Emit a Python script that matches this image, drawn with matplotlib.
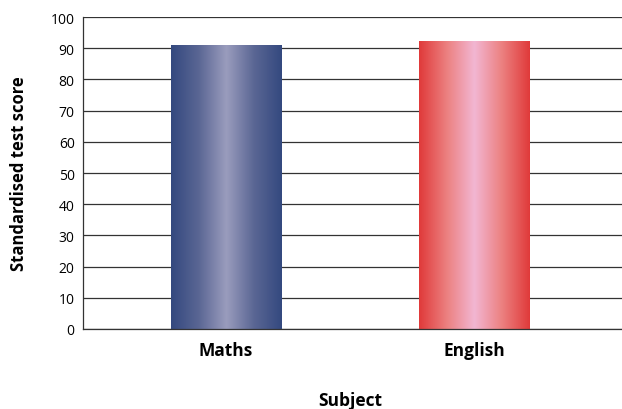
import numpy as np
import matplotlib
matplotlib.use("Agg")
import matplotlib.pyplot as plt
from matplotlib.colors import LinearSegmentedColormap

subjects = ["Maths", "English"]
scores = [91, 92]
yticks = list(range(0, 101, 10))

plt.rcParams['font.family'] = ['Open Sans', 'DejaVu Sans']

fig = plt.figure(figsize=(6.22, 4.10), dpi=100)
ax = fig.add_axes([83/622, 80/410, (622-83)/622, 312/410])

x = np.arange(len(subjects))
width = 0.444
bars = ax.bar(x, scores, width=width, color="none", edgecolor="none", zorder=3)

gradients = [
    ["#34497f", "#5a6694", "#9a9cbd", "#5a6694", "#34497f"],
    ["#e03a3a", "#ec8080", "#f2b6d2", "#ec8080", "#e03a3a"],
]
grad = np.linspace(0, 1, 256).reshape(1, -1)
for bar, cols in zip(bars, gradients):
    cmap = LinearSegmentedColormap.from_list("g", cols)
    x0, y0 = bar.get_x(), bar.get_y()
    ax.imshow(grad, cmap=cmap, aspect="auto", zorder=3,
              extent=[x0, x0 + bar.get_width(), y0, y0 + bar.get_height()])

ax.set_xlim(-0.577, 1.597)
ax.set_ylim(0, 100)
ax.set_yticks(yticks)
ax.set_yticklabels([str(t) for t in yticks], fontsize=10)
ax.set_xticks(x)
ax.set_xticklabels(subjects, fontsize=12.5, fontweight="bold")
ax.tick_params(axis="both", length=0, pad=6)
ax.tick_params(axis="x", pad=9)
ax.grid(axis="y", color="#333333", linewidth=0.9, zorder=1)
for s in ["top", "right"]:
    ax.spines[s].set_visible(False)
for s in ["left", "bottom"]:
    ax.spines[s].set_color("#333333")
    ax.spines[s].set_linewidth(0.9)
    ax.spines[s].set_zorder(4)

ax.set_ylabel("Standardised test score", fontsize=12, fontweight="bold", labelpad=16)
fig.text(350/622, 1 - 401/410, "Subject", fontsize=12.5, fontweight="bold",
         ha="center", va="center")

fig.savefig("out.png", dpi=100)
